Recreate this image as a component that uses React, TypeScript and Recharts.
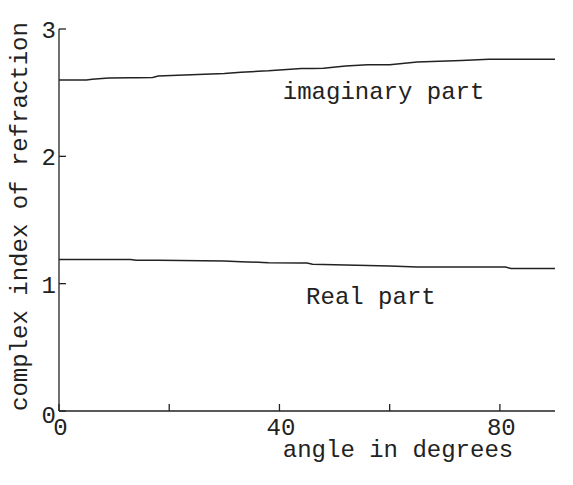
import React from 'react';
import { LineChart, Line, XAxis, YAxis, ReferenceDot } from 'recharts';

const angles = [0, 5, 6, 9, 13, 14, 17, 18, 30, 33, 37, 38, 44, 45, 46, 48, 52, 56, 60, 65, 73, 78, 81, 82, 90];
const imaginaryPart = [2.6, 2.6, 2.605, 2.615, 2.617, 2.618, 2.62, 2.63, 2.65, 2.66, 2.67, 2.672, 2.69, 2.69, 2.69, 2.692, 2.71, 2.72, 2.72, 2.74, 2.753, 2.763, 2.763, 2.763, 2.763];
const realPart = [1.19, 1.19, 1.19, 1.19, 1.19, 1.184, 1.183, 1.183, 1.178, 1.173, 1.167, 1.164, 1.163, 1.163, 1.152, 1.15, 1.147, 1.143, 1.139, 1.131, 1.131, 1.131, 1.131, 1.119, 1.119];

const xTicks = [0, 20, 40, 60, 80];
const xLabelTicks = [0, 40, 80];
const topTicks = [20, 40, 60, 80];
const yTicks = [0, 1, 2, 3];
const rightTicks = [1, 2];

const data = angles.map((a, i) => ({ angle: a, im: imaginaryPart[i], re: realPart[i] }));

const FONT = '"Liberation Mono", "DejaVu Sans Mono", monospace';
const INK = '#222';

const BottomTick = (props: any) => {
  const { x, y, payload } = props;
  const show = xLabelTicks.includes(payload.value);
  return (
    <g>
      <line x1={x} y1={y} x2={x} y2={y - 7} stroke={INK} strokeWidth={1.3} />
      {show && (
        <text x={x + 1.5} y={y + 24} textAnchor="middle" fontFamily={FONT} fontSize={24} fill={INK}>
          {payload.value}
        </text>
      )}
    </g>
  );
};

const TopTick = (props: any) => {
  const { x, y } = props;
  return <line x1={x} y1={y} x2={x} y2={y + 7} stroke={INK} strokeWidth={1.3} />;
};

const LeftTick = (props: any) => {
  const { x, y, payload } = props;
  const isZero = payload.value === 0;
  return (
    <g>
      <line x1={x} y1={y} x2={x + 7} y2={y} stroke={INK} strokeWidth={1.3} />
      <text x={isZero ? x - 3 : x - 3} y={isZero ? y + 12 : y + 9} textAnchor="end" fontFamily={FONT} fontSize={24} fill={INK}>
        {payload.value}
      </text>
    </g>
  );
};

const RightTick = (props: any) => {
  const { x, y } = props;
  return <line x1={x} y1={y} x2={x - 7} y2={y} stroke={INK} strokeWidth={1.3} />;
};

const TextLabel = (text: string) => (props: any) => {
  const vb = props.viewBox || {};
  return (
    <text x={vb.x} y={vb.y} textAnchor="middle" fontFamily={FONT} fontSize={24} fill={INK}>
      {text}
    </text>
  );
};

export default function App() {
  return (
    <div style={{ position: 'absolute', left: 0, top: 0 }}>
      <LineChart width={573} height={485} data={data} margin={{ top: 29, right: 18, bottom: 0, left: 0 }}>
        <XAxis
          dataKey="angle"
          type="number"
          domain={[0, 90]}
          ticks={xTicks}
          allowDataOverflow
          height={74}
          tickSize={0}
          tickMargin={0}
          tickLine={false}
          axisLine={{ stroke: INK, strokeWidth: 1.5 }}
          tick={BottomTick}
          interval={0}
          label={{
            content: (p: any) => {
              const vb = p.viewBox || {};
              return (
                <text x={398} y={vb.y + 46} textAnchor="middle" fontFamily={FONT} fontSize={24} fill={INK}>
                  angle in degrees
                </text>
              );
            },
          }}
        />
        <XAxis
          xAxisId="top"
          dataKey="angle"
          type="number"
          orientation="top"
          domain={[0, 90]}
          ticks={topTicks}
          allowDataOverflow
          height={0}
          tickSize={0}
          tickMargin={0}
          tickLine={false}
          axisLine={{ stroke: INK, strokeWidth: 1.3 }}
          tick={TopTick}
          interval={0}
        />
        <YAxis
          type="number"
          domain={[0, 3]}
          ticks={yTicks}
          allowDataOverflow
          width={59}
          tickSize={0}
          tickMargin={0}
          tickLine={false}
          axisLine={{ stroke: INK, strokeWidth: 1.3 }}
          tick={LeftTick}
          interval={0}
          label={{
            content: () => (
              <text
                x={27}
                y={216.5}
                transform="rotate(-90, 27, 216.5)"
                textAnchor="middle"
                fontFamily={FONT}
                fontSize={24}
                fill={INK}
              >
                complex index of refraction
              </text>
            ),
          }}
        />
        <YAxis
          yAxisId="right"
          orientation="right"
          type="number"
          domain={[0, 3]}
          ticks={rightTicks}
          allowDataOverflow
          width={0}
          tickSize={0}
          tickMargin={0}
          tickLine={false}
          axisLine={{ stroke: INK, strokeWidth: 1.3 }}
          tick={RightTick}
          interval={0}
        />
        <Line type="linear" dataKey="im" stroke={INK} strokeWidth={1.5} dot={false} isAnimationActive={false} />
        <Line type="linear" dataKey="re" stroke={INK} strokeWidth={1.5} dot={false} isAnimationActive={false} />
        <ReferenceDot x={58.9} y={2.449} r={0} fill="none" stroke="none" label={{ content: TextLabel('imaginary part') }} />
        <ReferenceDot x={56.6} y={0.838} r={0} fill="none" stroke="none" label={{ content: TextLabel('Real part') }} />
      </LineChart>
    </div>
  );
}
